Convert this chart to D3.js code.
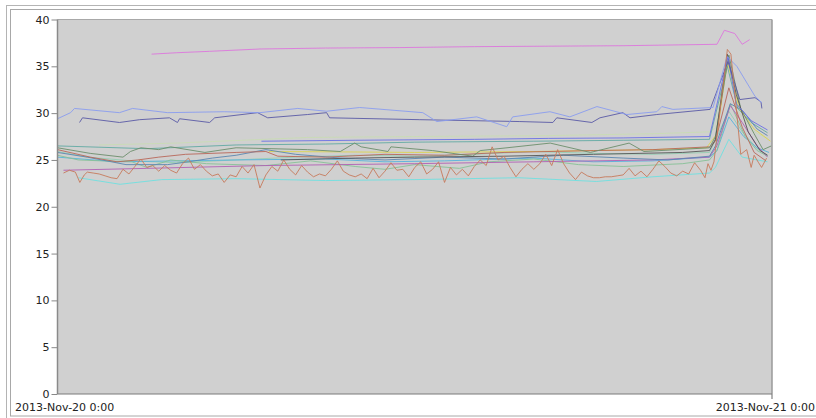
<!DOCTYPE html>
<html><head><meta charset="utf-8">
<script src="https://cdn.jsdelivr.net/npm/d3@7"></script>
<style>
html,body{margin:0;padding:0;background:#fff;}
svg{display:block;font-family:"DejaVu Sans",sans-serif;}
</style></head>
<body>
<svg id="chart" width="816" height="418"></svg>
<script>
// ---- data (hour of day, temperature) ----
const startTime = "2013-11-20T00:00:00";
const endTime = "2013-11-21T00:00:00";
const yTicks = [0,5,10,15,20,25,30,35,40];
const xLabels = ["2013-Nov-20 0:00","2013-Nov-21 0:00"];

const seriesMagenta = [[3.16,36.3],[4.0,36.45],[5.1,36.6],[6.8,36.85],[9,36.95],[11.5,37.0],[14,37.1],[16.5,37.15],[19,37.2],[22.15,37.35],[22.4,38.85],[22.75,38.5],[23.0,37.35],[23.25,37.85]];
const seriesLightBlue = [[0,29.4],[0.44,30.05],[0.57,30.5],[2.08,30.05],[2.52,30.5],[3.7,30.05],[5.6,30.15],[6.8,30.05],[8.07,30.5],[9.04,30.2],[10.15,30.6],[12.27,30.05],[12.74,29.1],[14.08,29.6],[15.09,28.55],[15.29,29.6],[16.54,30.15],[17.21,29.6],[18.12,30.7],[18.89,30.05],[19.13,29.85],[20.13,30.15],[20.3,30.7],[20.67,30.4],[22.02,30.6],[22.49,36.05],[22.82,35.0],[23.43,31.8],[23.66,31.1]];
const seriesSlate = [[0.74,29.0],[0.84,29.5],[2.08,29.0],[2.76,29.3],[3.76,29.5],[4.03,29.0],[4.1,29.4],[5.11,29.0],[5.28,29.5],[6.72,30.05],[7.06,29.5],[8.4,29.85],[9.04,30.05],[9.14,29.5],[12.17,29.3],[15.53,29.1],[16.64,29.0],[16.77,29.5],[17.95,29.0],[18.22,29.5],[18.99,30.05],[19.23,29.5],[20.13,29.85],[21.92,30.4],[22.52,35.5],[22.92,31.45],[23.43,31.65],[23.63,31.2],[23.66,30.5]];
const seriesBlue = [[6.85,27.0],[10,27.1],[14,27.2],[16.5,27.3],[19,27.35],[21.9,27.5],[22.52,36.0],[22.8,31.0],[23.3,29.2],[23.85,28.2]];
const seriesPale = [[1.4,26.6],[4,26.8],[8.4,27.4],[12,27.5],[16.5,27.6],[20,27.8],[21.9,28.0],[22.1,28.4],[22.5,35.8],[22.9,30.0],[23.4,28.0],[23.85,27.3]];
const seriesDarkGreen = [[0,26.3],[1.1,25.7],[2.2,25.3],[2.45,25.9],[2.8,26.3],[3.4,26.1],[3.8,26.4],[4.95,25.8],[6,26.3],[8.4,26.1],[9.5,25.9],[9.98,26.8],[10.2,26.4],[11.1,25.9],[11.2,26.4],[12.6,26.0],[13.95,25.4],[14.2,26.0],[15.1,26.3],[16.55,26.8],[17.9,25.8],[19.2,26.8],[19.7,25.9],[21.9,26.3],[22.1,27.5],[22.55,36.2],[22.95,30.5],[23.4,27.8],[23.7,26.1],[23.98,26.5]];
const seriesRed = [[0,26.1],[1.1,25.3],[2,24.8],[2.7,25.0],[3.4,25.3],[4.3,25.6],[6,25.8],[7,25.9],[7.4,25.4],[9,25.3],[11,25.6],[13,25.5],[15,25.8],[18,26.0],[20,26.1],[21.9,26.4],[22.1,27.0],[22.55,32.7],[23.0,28.5],[23.4,25.8],[23.8,24.9]];
const seriesSteel = [[0,25.8],[1,25.3],[2.3,24.5],[3.7,24.5],[4.4,24.8],[5.2,25.2],[6,25.5],[7,26.1],[8,25.6],[9.5,25.2],[11,25.0],[13,25.3],[15,25.1],[17,25.5],[19,25.2],[20.5,25.0],[21.9,25.4],[22.1,26.5],[22.6,31.0],[23.0,30.3],[23.5,28.3],[23.85,27.6]];
const seriesLightGreen = [[0,25.5],[0.7,25.0],[1.5,24.9],[2.5,24.8],[3,24.2],[3.8,25.0],[5,24.6],[7,24.4],[8.5,24.9],[10,24.3],[11,24.0],[12,24.5],[13.5,24.1],[14.5,24.8],[16,25.1],[17.5,24.5],[19,24.3],[21,24.6],[21.9,25.0],[22.15,26.0],[22.6,31.0],[23.1,27.5],[23.5,26.0],[23.85,25.4]];
const seriesYellow = [[7.1,25.9],[10,25.85],[12,25.8],[16,25.9],[20,26.1],[21.8,26.3],[22.15,27.8],[22.5,35.5],[22.9,30.5],[23.4,28.3],[23.95,27.0]];
const seriesTeal = [[0,26.5],[3,26.2],[6,26.6],[9,26.7],[12,26.9],[16,27.0],[19,27.1],[21.9,27.2],[22.5,35.0],[22.85,30.5],[23.3,29.0],[23.85,27.9]];
const seriesDarkGray = [[7.5,25.0],[10,25.2],[12,25.3],[15,25.4],[18,25.6],[21,25.8],[21.9,26.0],[22.1,27.2],[22.5,36.3],[22.8,32.0],[23.2,28.0],[23.6,26.0],[23.85,25.5]];
const seriesPurple = [[0.2,23.9],[3,24.1],[7,24.4],[12,24.6],[16,24.8],[20,25.0],[21.9,25.3],[22.15,26.5],[22.6,30.8],[23.0,29.0],[23.5,26.5],[23.85,25.3]];
const seriesCyan = [[0.7,23.1],[2.1,22.4],[3.5,22.9],[6,23.0],[9,22.8],[12,22.9],[15.5,23.1],[18.1,22.7],[20,23.2],[21.9,23.6],[22.1,24.2],[22.55,27.2],[23.0,25.3],[23.5,25.0],[23.85,24.8]];
const seriesSky = [[0,25.3],[2,24.8],[4,24.9],[6,25.0],[9,25.1],[11,24.8],[13,24.9],[16,25.2],[18,24.8],[20,24.9],[21.9,25.3],[22.15,26.0],[22.55,29.6],[23.05,27.5],[23.5,26.3],[23.9,25.8]];
const seriesAqua = [[0,25.9],[1.0,25.3],[2.5,24.9],[4,24.7],[6,25.0],[8,25.3],[10,25.5],[12,25.4],[14,25.6],[16,25.9],[18,25.7],[20,25.6],[21.9,25.8],[22.55,30.2],[23.0,28.0],[23.5,26.2],[23.85,25.5]];
const seriesNoisy = [[0.2,23.6],[0.4,23.9],[0.6,23.7],[0.75,22.6],[0.9,23.4],[1.0,23.7],[1.2,23.6],[1.4,23.5],[1.6,23.3],[1.8,23.1],[2.0,23.0],[2.2,24.0],[2.4,23.5],[2.6,24.3],[2.8,25.1],[3.0,24.2],[3.2,24.4],[3.4,23.8],[3.6,24.4],[3.8,23.9],[4.0,23.6],[4.2,24.6],[4.4,25.2],[4.6,24.0],[4.8,24.5],[5.0,23.8],[5.2,23.3],[5.4,23.5],[5.6,22.6],[5.8,23.4],[6.0,23.2],[6.2,24.3],[6.4,23.6],[6.6,24.5],[6.8,22.0],[7.0,23.4],[7.2,24.3],[7.4,23.8],[7.6,25.0],[7.8,24.0],[8.0,23.4],[8.2,24.4],[8.4,23.7],[8.6,23.2],[8.8,23.5],[9.0,23.3],[9.2,24.0],[9.4,24.9],[9.6,23.8],[9.8,23.4],[10.0,23.2],[10.2,23.5],[10.4,23.0],[10.6,24.1],[10.8,23.1],[11.0,23.8],[11.2,24.7],[11.4,23.9],[11.6,24.0],[11.8,23.2],[12.0,24.2],[12.2,24.8],[12.4,23.5],[12.6,24.0],[12.8,24.8],[13.0,22.6],[13.2,24.2],[13.4,23.4],[13.6,24.0],[13.8,23.3],[14.0,24.3],[14.2,25.0],[14.4,24.4],[14.6,26.4],[14.8,25.0],[15.0,25.4],[15.2,24.2],[15.4,23.2],[15.6,24.0],[15.8,24.6],[16.0,24.0],[16.2,24.6],[16.4,25.6],[16.6,24.4],[16.8,26.1],[17.0,24.6],[17.2,23.6],[17.4,22.9],[17.6,23.7],[17.8,23.3],[18.0,23.1],[18.2,23.1],[18.4,23.2],[18.6,23.2],[18.8,23.3],[19.0,23.4],[19.2,24.1],[19.4,23.3],[19.6,23.8],[19.8,23.2],[20.0,24.0],[20.2,24.9],[20.4,24.3],[20.6,23.6],[20.8,23.3],[21.0,23.8],[21.2,23.5],[21.4,24.7],[21.6,23.9],[21.75,23.1],[21.85,24.6],[21.95,23.9],[22.05,24.8],[22.5,36.8],[22.62,36.3],[22.95,25.6],[23.15,26.1],[23.3,24.2],[23.4,25.5],[23.55,24.7],[23.65,24.2],[23.82,25.2]];

const seriesList = [
  {data: seriesPale, color: "#c9dcb4"},
  {data: seriesTeal, color: "#62aaa3"},
  {data: seriesAqua, color: "#93cdb3"},
  {data: seriesSky, color: "#55b3dd"},
  {data: seriesLightGreen, color: "#86c197"},
  {data: seriesCyan, color: "#6fe0e0"},
  {data: seriesPurple, color: "#b160b5"},
  {data: seriesYellow, color: "#dcd450"},
  {data: seriesSteel, color: "#5b86b0"},
  {data: seriesRed, color: "#b8675a"},
  {data: seriesDarkGreen, color: "#6b8e6b"},
  {data: seriesDarkGray, color: "#555555"},
  {data: seriesBlue, color: "#6a70e6"},
  {data: seriesSlate, color: "#5a5aa6"},
  {data: seriesLightBlue, color: "#8a9cf0"},
  {data: seriesMagenta, color: "#dd77dd"},
  {data: seriesNoisy, color: "#c77a5c"}
];

// ---- layout ----
const svg = d3.select("#chart");
const plot = {left: 57.5, top: 19.5, right: 772, bottom: 394};
const t0 = new Date(startTime), t1 = new Date(endTime);
const x = d3.scaleTime().domain([t0, t1]).range([plot.left, plot.right]);
const y = d3.scaleLinear().domain([0, 40]).range([plot.bottom, plot.top]);
const toDate = h => new Date(t0.getTime() + h * 3600000);

// frames
svg.append("rect").attr("x",6.5).attr("y",5.5).attr("width",900).attr("height",430)
  .attr("fill","none").attr("stroke","#b4b4b4");
svg.append("rect").attr("x",10.5).attr("y",9.5).attr("width",900).attr("height",406.5)
  .attr("fill","none").attr("stroke","#a8a8a8");

// plot background
svg.append("rect").attr("x",plot.left).attr("y",plot.top)
  .attr("width",plot.right-plot.left).attr("height",plot.bottom-plot.top)
  .attr("fill","#d0d0d0");

svg.append("clipPath").attr("id","clip").append("rect")
  .attr("x",plot.left).attr("y",plot.top)
  .attr("width",plot.right-plot.left).attr("height",plot.bottom-plot.top);

const line = d3.line().x(d => x(toDate(d[0]))).y(d => y(d[1]));
const g = svg.append("g").attr("clip-path","url(#clip)");
seriesList.forEach(s => {
  g.append("path").attr("d", line(s.data)).attr("fill","none")
    .attr("stroke", s.color).attr("stroke-width",1).attr("stroke-linejoin","round")
    .attr("opacity",0.9);
});

// plot borders
svg.append("line").attr("x1",plot.left).attr("x2",plot.right).attr("y1",plot.top).attr("y2",plot.top)
  .attr("stroke","#a8a8a8").attr("stroke-width",1);
svg.append("line").attr("x1",plot.left).attr("x2",plot.left).attr("y1",plot.top).attr("y2",plot.bottom)
  .attr("stroke","#8a8a8a").attr("stroke-width",1.5);
svg.append("line").attr("x1",plot.right).attr("x2",plot.right).attr("y1",plot.top).attr("y2",plot.bottom+5)
  .attr("stroke","#9a9a9a").attr("stroke-width",1.5);
svg.append("line").attr("x1",plot.left).attr("x2",plot.right).attr("y1",plot.bottom).attr("y2",plot.bottom)
  .attr("stroke","#7a7a7a").attr("stroke-width",1);

// y axis
const yAxis = d3.axisLeft(y).tickValues(yTicks).tickSize(6).tickPadding(2).tickFormat(d3.format("d"));
const ya = svg.append("g").attr("transform",`translate(${plot.left},0)`).call(yAxis);
ya.select(".domain").remove();
ya.selectAll(".tick line").attr("stroke","#888");
ya.selectAll(".tick text").attr("fill","#222").style("font-size","11px").style("font-family","DejaVu Sans");

// x labels
svg.append("text").attr("x",15).attr("y",411).text(xLabels[0])
  .attr("fill","#222").style("font-size","11px");
svg.append("text").attr("x",815).attr("y",411).attr("text-anchor","end").text(xLabels[1])
  .attr("fill","#222").style("font-size","11px");
</script>
</body></html>
